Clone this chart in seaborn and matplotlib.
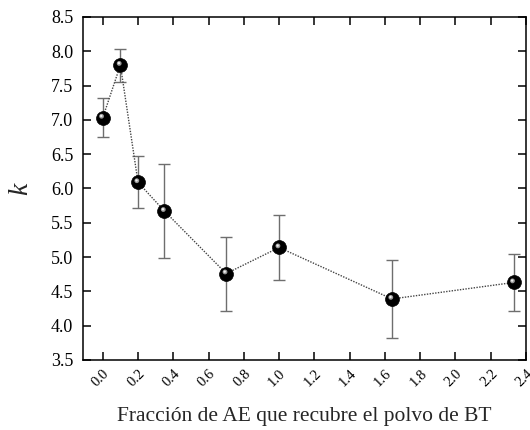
import numpy as np
import pandas as pd
import matplotlib
matplotlib.use("Agg")
import matplotlib.pyplot as plt
import matplotlib.transforms as mtransforms
import seaborn as sns

# Data
fraction = [0.0, 0.1, 0.2, 0.35, 0.7, 1.0, 1.64, 2.33]
k_value = [7.03, 7.80, 6.09, 5.67, 4.76, 5.14, 4.39, 4.63]
err_low = [6.75, 7.55, 5.71, 4.99, 4.22, 4.67, 3.82, 4.21]
err_high = [7.32, 8.04, 6.48, 6.35, 5.30, 5.62, 4.96, 5.04]
x_ticks = [0.0, 0.2, 0.4, 0.6, 0.8, 1.0, 1.2, 1.4, 1.6, 1.8, 2.0, 2.2, 2.4]
y_ticks = [3.5, 4.0, 4.5, 5.0, 5.5, 6.0, 6.5, 7.0, 7.5, 8.0, 8.5]

df = pd.DataFrame({"x": fraction, "k": k_value, "lo": err_low, "hi": err_high})

sns.set_style("ticks")
plt.rcParams["font.family"] = ["Liberation Serif", "DejaVu Serif"]
plt.rcParams["mathtext.fontset"] = "custom"
plt.rcParams["mathtext.it"] = "Liberation Serif:italic"

fig = plt.figure(figsize=(5.3, 4.3), dpi=100)
ax = fig.add_axes([0.1566, 0.1628, 0.8359, 0.7977])

yerr = np.vstack([df["k"] - df["lo"], df["hi"] - df["k"]])
ax.errorbar(df["x"], df["k"], yerr=yerr, fmt="none", ecolor="#6e6e6e",
            elinewidth=1.0, capsize=4, capthick=1.0, zorder=2)

sns.lineplot(data=df, x="x", y="k", ax=ax, color="#444444", linestyle=(0, (1, 1)),
             linewidth=1.0, zorder=3, sort=False)

sns.scatterplot(data=df, x="x", y="k", ax=ax, s=100, color="black",
                edgecolor="black", linewidth=0.5, zorder=4)
hl = mtransforms.offset_copy(ax.transData, fig=fig, x=-1.2, y=1.6, units="dots")
ax.scatter(df["x"], df["k"], s=12, color="#9a9a9a", edgecolor="none",
           transform=hl, zorder=5)
hl2 = mtransforms.offset_copy(ax.transData, fig=fig, x=-1.5, y=1.9, units="dots")
ax.scatter(df["x"], df["k"], s=3, color="#eeeeee", edgecolor="none",
           transform=hl2, zorder=6)

ax.set_xlim(-0.112, 2.4)
ax.set_ylim(3.5, 8.5)
ax.set_xticks(x_ticks)
ax.set_xticklabels([f"{t:.1f}" for t in x_ticks], rotation=45, ha="right",
                   rotation_mode="anchor", fontsize=10.5)
ax.set_yticks(y_ticks)
ax.set_yticklabels([f"{t:.1f}" for t in y_ticks], fontsize=13)

for s in ax.spines.values():
    s.set_visible(True)
    s.set_linewidth(1.1)
    s.set_color("black")

ax.tick_params(axis="both", direction="in", length=6, width=1.1,
               top=True, right=True, colors="black")
ax.tick_params(axis="y", pad=7)
ax.tick_params(axis="x", pad=5)

ax.set_xlabel("Fracción de AE que recubre el polvo de BT", fontsize=15.5, labelpad=13)
ax.set_ylabel("$k$", fontsize=20, labelpad=12)

fig.savefig("out.png", dpi=100)
